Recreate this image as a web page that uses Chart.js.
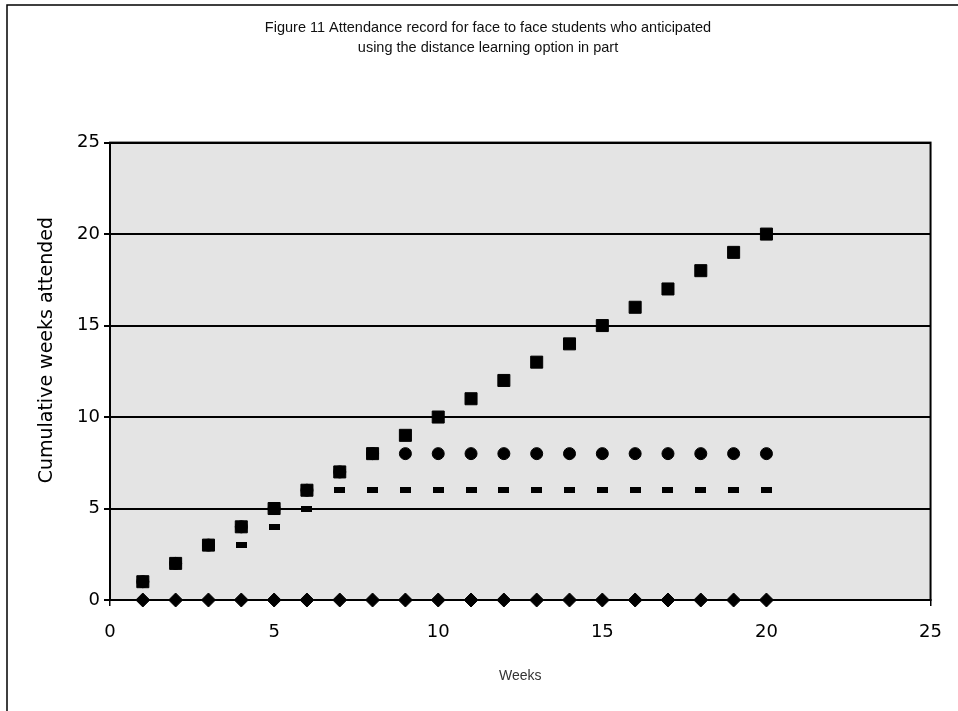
<!DOCTYPE html>
<html>
<head>
<meta charset="utf-8">
<script src="https://cdn.jsdelivr.net/npm/chart.js@4.4.1/dist/chart.umd.min.js"></script>
<style>
  html, body { margin: 0; padding: 0; background: #fff; }
  #wrap { width: 958px; height: 711px; position: relative; }
</style>
</head>
<body>
<div id="wrap"><canvas id="attendChart" width="958" height="711"></canvas></div>
<script>
// weeks 1..20
const weeks = [1, 2, 3, 4, 5, 6, 7, 8, 9, 10, 11, 12, 13, 14, 15, 16, 17, 18, 19, 20];
// cumulative weeks attended, one array per student
const fullAttendance = [1, 2, 3, 4, 5, 6, 7, 8, 9, 10, 11, 12, 13, 14, 15, 16, 17, 18, 19, 20];
const stoppedAtEight = [1, 2, 3, 4, 5, 6, 7, 8, 8, 8, 8, 8, 8, 8, 8, 8, 8, 8, 8, 8];
const stoppedAtSix = [1, 2, 3, 3, 4, 5, 6, 6, 6, 6, 6, 6, 6, 6, 6, 6, 6, 6, 6, 6];
const neverAttended = [0, 0, 0, 0, 0, 0, 0, 0, 0, 0, 0, 0, 0, 0, 0, 0, 0, 0, 0, 0];
const yTicks = [0, 5, 10, 15, 20, 25];
const xTicks = [0, 5, 10, 15, 20, 25];

function toPoints(values) {
  return weeks.map((w, i) => ({ x: w, y: values[i] }));
}

// small flat bar used as the marker of one series
const dash = document.createElement('canvas');
dash.width = 11;
dash.height = 6;
const dctx = dash.getContext('2d');
dctx.fillStyle = '#000';
dctx.fillRect(0, 0, 11, 6);

// plot background + outer frame
const frame = {
  id: 'frame',
  beforeDraw(chart) {
    const { ctx, chartArea: a } = chart;
    ctx.save();
    ctx.fillStyle = '#e4e4e4';
    ctx.fillRect(a.left, a.top, a.right - a.left, a.bottom - a.top);
    ctx.strokeStyle = '#000';
    ctx.lineWidth = 1.5;
    ctx.beginPath();
    ctx.moveTo(7, 711);
    ctx.lineTo(7, 5);
    ctx.lineTo(958, 5);
    ctx.stroke();
    ctx.restore();
  },
  beforeDatasetsDraw(chart) {
    const { ctx, chartArea: a } = chart;
    ctx.save();
    ctx.strokeStyle = '#000';
    ctx.lineWidth = 2;
    ctx.strokeRect(a.left, a.top, a.right - a.left, a.bottom - a.top);
    ctx.restore();
  }
};

const ctx = document.getElementById('attendChart').getContext('2d');
new Chart(ctx, {
  type: 'scatter',
  data: {
    datasets: [
      {
        label: 'Full attendance',
        data: toPoints(fullAttendance),
        pointStyle: 'rect',
        pointRadius: 8.5,
        backgroundColor: '#000',
        borderColor: '#000',
        clip: false
      },
      {
        label: 'Stopped at eight',
        data: toPoints(stoppedAtEight),
        pointStyle: 'circle',
        pointRadius: 6,
        backgroundColor: '#000',
        borderColor: '#000',
        clip: false
      },
      {
        label: 'Stopped at six',
        data: toPoints(stoppedAtSix),
        pointStyle: dash,
        backgroundColor: '#000',
        borderColor: '#000',
        clip: false
      },
      {
        label: 'Never attended',
        data: toPoints(neverAttended),
        pointStyle: 'rectRot',
        pointRadius: 7,
        backgroundColor: '#000',
        borderColor: '#000',
        clip: false
      }
    ]
  },
  options: {
    responsive: false,
    animation: false,
    layout: { padding: { left: 42, right: 24, top: 0, bottom: 0 } },
    plugins: {
      legend: { display: false },
      tooltip: { enabled: false },
      title: {
        display: true,
        text: ['Figure 11 Attendance record for face to face students who anticipated',
               'using the distance learning option in part'],
        color: '#111',
        font: { family: "'Liberation Sans Narrow', 'Liberation Sans', sans-serif", size: 14.5, weight: 'normal', lineHeight: 1.4 },
        padding: { top: 18, bottom: 84 }
      }
    },
    scales: {
      x: {
        type: 'linear',
        min: 0,
        max: 25,
        afterBuildTicks: s => { s.ticks = xTicks.map(v => ({ value: v })); },
        afterFit: s => { s.height = 111; },
        grid: {
          drawOnChartArea: false,
          color: '#000',
          tickLength: 6,
          lineWidth: 1.5
        },
        border: { color: '#000', width: 2 },
        ticks: {
          color: '#000',
          padding: 16,
          font: { family: "'DejaVu Sans', sans-serif", size: 18 }
        },
        title: {
          display: true,
          text: 'Weeks',
          color: '#333',
          font: { family: "'Liberation Sans Narrow', 'Liberation Sans', sans-serif", size: 14 },
          padding: { top: 4, bottom: 26 }
        }
      },
      y: {
        min: 0,
        max: 25,
        afterBuildTicks: s => { s.ticks = yTicks.map(v => ({ value: v })); },
        afterFit: s => { s.width = 68; },
        grid: {
          color: '#000',
          lineWidth: 2,
          tickLength: 6
        },
        border: { color: '#000', width: 2 },
        ticks: {
          color: '#000',
          padding: 4,
          font: { family: "'DejaVu Sans', sans-serif", size: 18 }
        },
        title: {
          display: true,
          text: '       Cumulative weeks attended',
          color: '#000',
          font: { family: "'DejaVu Sans', sans-serif", size: 19 },
          padding: { top: -6, bottom: 0 }
        }
      }
    }
  },
  plugins: [frame]
});
</script>
</body>
</html>
